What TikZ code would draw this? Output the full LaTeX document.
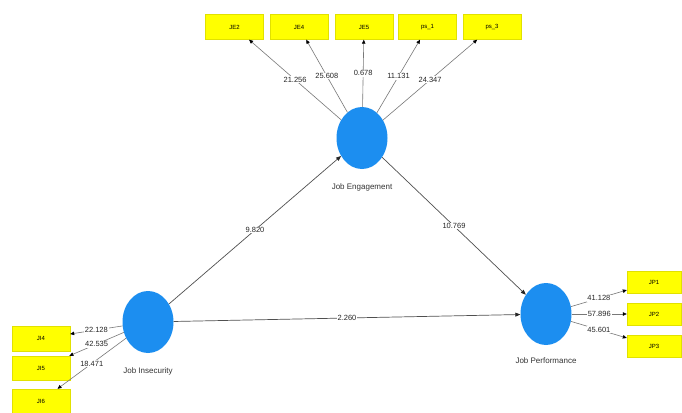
\documentclass[tikz,border=0pt]{standalone}
\usepackage{fontspec}
\setmainfont{Liberation Sans}
\usetikzlibrary{shapes.geometric,arrows.meta}
\definecolor{lvblue}{RGB}{28,142,240}
\definecolor{indyel}{RGB}{255,255,0}
\definecolor{indbord}{RGB}{225,225,0}
\definecolor{linegray}{RGB}{120,120,120}
\definecolor{pathgray}{RGB}{80,80,80}
\tikzset{
  latent/.style={ellipse, fill=lvblue, draw=none, minimum width=51pt, minimum height=62pt, inner sep=0pt},
  indbox/.style={rectangle, fill=indyel, draw=indbord, line width=0.4pt, minimum width=58pt, minimum height=25pt, inner sep=0pt, font=\fontsize{6}{7}\selectfont},
  lvlabel/.style={font=\fontsize{8}{9}\selectfont, text=black!80},
  meas/.style={draw=linegray, line width=0.6pt, -{Triangle[length=4pt,width=3.5pt,color=black]}},
  path/.style={draw=pathgray, line width=0.7pt, -{Triangle[length=5pt,width=4pt,color=black!85]}},
  val/.style={fill=white, inner sep=0.8pt, font=\fontsize{7.5}{8}\selectfont, text=black!85},
}
\begin{document}
\begin{tikzpicture}[x=1pt,y=-1pt]
\useasboundingbox (0,0) rectangle (682,412);
\fill[white] (0,0) rectangle (682,412);

% latent variables
\node[latent] (JE) at (362,138) {};
\node[latent] (JI) at (148,322) {};
\node[latent] (JP) at (546,314) {};
\node[lvlabel] (JElab) at (362,187) {Job Engagement};
\node[lvlabel] (JIlab) at (148,371) {Job Insecurity};
\node[lvlabel] (JPlab) at (546,361) {Job Performance};

% indicators
\node[indbox] (JE2) at (234.5,27) {JE2};
\node[indbox] (JE4) at (299,27) {JE4};
\node[indbox] (JE5) at (364,27) {JE5};
\node[indbox] (ps1) at (427.5,27) {ps\_1};
\node[indbox] (ps3) at (492,27) {ps\_3};

\node[indbox] (JI4) at (41,338.5) {JI4};
\node[indbox, minimum height=24pt] (JI5) at (41,368) {JI5};
\node[indbox, minimum height=24pt] (JI6) at (41,401) {JI6};

\node[indbox, minimum width=54pt, minimum height=22pt] (JP1) at (654,282) {JP1};
\node[indbox, minimum width=54pt, minimum height=22pt] (JP2) at (654,314) {JP2};
\node[indbox, minimum width=54pt, minimum height=22pt] (JP3) at (654,346) {JP3};

% outer loadings
\draw[meas] (JE) -- node[val] {21.256} (JE2);
\draw[meas] (JE) -- node[val] {25.608} (JE4);
\draw[meas] (JE) -- node[val] {0.678} (JE5);
\draw[meas] (JE) -- node[val] {11.131} (ps1);
\draw[meas] (JE) -- node[val] {24.347} (ps3);

\draw[meas] (JI) -- node[val] {22.128} (JI4);
\draw[meas] (JI) -- node[val] {42.535} (JI5);
\draw[meas] (JI) -- node[val] {18.471} (JI6);

\draw[meas] (JP) -- node[val] {41.128} (JP1);
\draw[meas] (JP) -- node[val] {57.896} (JP2);
\draw[meas] (JP) -- node[val] {45.601} (JP3);

% structural paths
\draw[path] (JI) -- node[val] {9.820} (JE);
\draw[path] (JE) -- node[val] {10.769} (JP);
\draw[path] (JI) -- node[val] {2.260} (JP);
\end{tikzpicture}
\end{document}
